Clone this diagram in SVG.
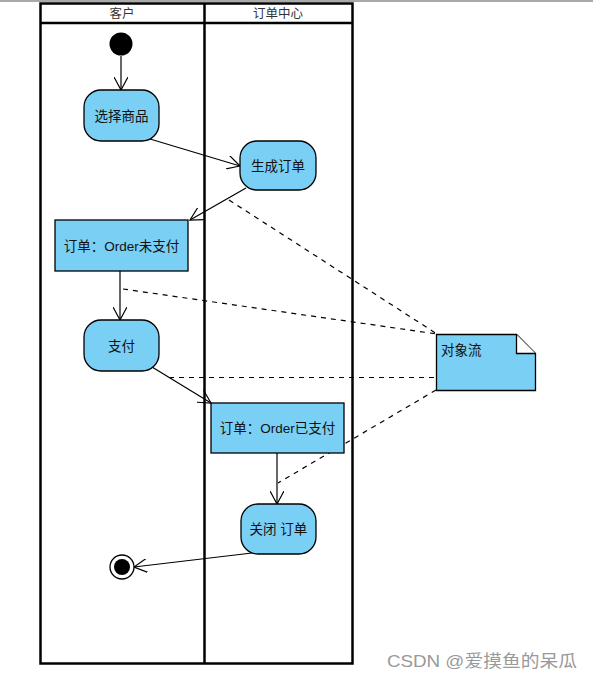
<svg xmlns="http://www.w3.org/2000/svg" width="593" height="680" viewBox="0 0 593 680">
<defs>
<style>
.lane{fill:none;stroke:#000;stroke-width:2.5}
.act{fill:#7ACFF5;stroke:#000;stroke-width:1.3}
.t{font-family:"Liberation Sans","Noto Sans CJK SC",sans-serif;font-size:13.5px;fill:#111;text-anchor:middle}
.h{font-family:"Liberation Sans","Noto Sans CJK SC",sans-serif;font-size:12.5px;fill:#333;text-anchor:middle}
.flow{fill:none;stroke:#000;stroke-width:1.2}
.dash{fill:none;stroke:#000;stroke-width:1.2;stroke-dasharray:5,5}
</style>
<marker id="arr" viewBox="0 0 14 14" refX="13" refY="7" markerWidth="14" markerHeight="14" markerUnits="userSpaceOnUse" orient="auto">
<path d="M0,0 L13,7 L0,14" fill="none" stroke="#000" stroke-width="1.2"/>
</marker>
</defs>
<rect width="593" height="680" fill="#fff"/>
<line x1="0" y1="1" x2="593" y2="1" stroke="#555" stroke-width="1"/>
<g id="swimlanes">
<rect class="lane" x="40.5" y="3.5" width="312" height="660"/>
<line class="lane" x1="204.5" y1="3.5" x2="204.5" y2="663.5"/>
<line class="lane" x1="40.5" y1="23" x2="352.5" y2="23"/>
<text class="h" x="122" y="17.5">客户</text>
<text class="h" x="278" y="17.5">订单中心</text>
</g>
<g id="connectors">
<line class="flow" x1="121" y1="56" x2="121" y2="90" marker-end="url(#arr)"/>
<line class="flow" x1="150" y1="139" x2="240" y2="166" marker-end="url(#arr)"/>
<line class="flow" x1="246" y1="188" x2="190" y2="220" marker-end="url(#arr)"/>
<line class="flow" x1="120" y1="271" x2="120" y2="320" marker-end="url(#arr)"/>
<line class="flow" x1="152" y1="367" x2="211" y2="403" marker-end="url(#arr)"/>
<line class="flow" x1="277" y1="453" x2="277" y2="504" marker-end="url(#arr)"/>
<line class="flow" x1="252" y1="553" x2="134" y2="567" marker-end="url(#arr)"/>
<line class="dash" x1="229" y1="200" x2="437" y2="334"/>
<line class="dash" x1="123" y1="289" x2="437" y2="334"/>
<line class="dash" x1="169" y1="377.5" x2="437" y2="377.5"/>
<line class="dash" x1="436" y1="390" x2="278" y2="483"/>
</g>
<g id="start"><circle cx="121" cy="44" r="11.5" fill="#000"/></g>
<g id="select"><rect class="act" x="84" y="90" width="75" height="51" rx="17"/><text class="t" x="121.5" y="120.5">选择商品</text></g>
<g id="create"><rect class="act" x="240" y="141" width="76" height="49" rx="17"/><text class="t" x="278" y="170.5">生成订单</text></g>
<g id="unpaid"><rect class="act" x="55" y="220" width="133" height="51"/><text class="t" x="121.5" y="250.5">订单：Order未支付</text></g>
<g id="pay"><rect class="act" x="84" y="320" width="75" height="51" rx="17"/><text class="t" x="121.5" y="350.5">支付</text></g>
<g id="paid"><rect class="act" x="211" y="403" width="133" height="50"/><text class="t" x="277.5" y="432.5">订单：Order已支付</text></g>
<g id="close"><rect class="act" x="241" y="504" width="75" height="50" rx="17"/><text class="t" x="278.5" y="533.5">关闭 订单</text></g>
<g id="end"><circle cx="122" cy="567" r="12" fill="#fff" stroke="#000" stroke-width="1.3"/><circle cx="122" cy="567" r="8" fill="#000"/></g>
<g id="note">
<path class="act" d="M436.5,334.5 H516.5 L535.5,353.5 V390.5 H436.5 Z"/>
<path d="M516.5,334.5 V353.5 H535.5" fill="#fff" stroke="#000" stroke-width="1.3"/>
<text class="t" x="441" y="355" style="text-anchor:start">对象流</text>
</g>
<text x="387" y="667" textLength="190" lengthAdjust="spacingAndGlyphs" style="font-family:'Liberation Sans','Noto Sans CJK SC',sans-serif;font-size:17px;fill:#999">CSDN @爱摸鱼的呆瓜</text>
</svg>
